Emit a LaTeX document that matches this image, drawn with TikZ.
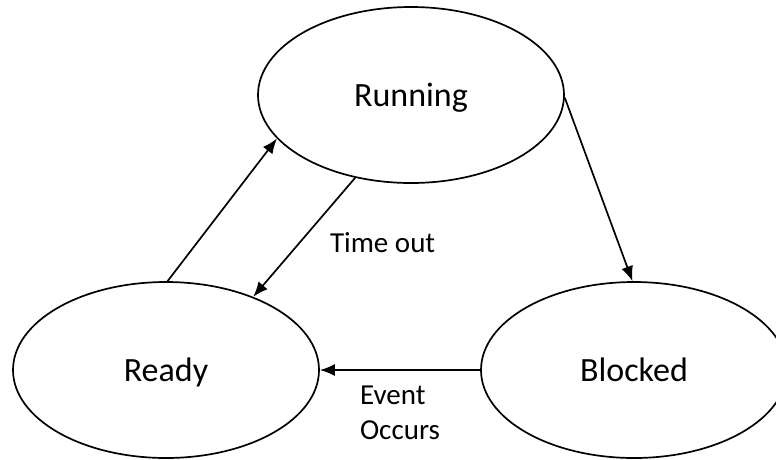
\documentclass[tikz,border=0pt]{standalone}
\usepackage{fontspec}
\setmainfont{Carlito}
\usetikzlibrary{shapes.geometric, arrows.meta, positioning}

\begin{document}
\begin{tikzpicture}
[x=1pt, y=-1pt,
  state/.style={draw, ellipse, line width=1.7pt, minimum width=306pt,
    minimum height=176pt, inner sep=0pt, text depth=0pt,
    font=\fontsize{34}{40}\selectfont},
  trans/.style={->, line width=1.7pt},
  edge text/.style={font=\fontsize{29}{35}\selectfont, align=left, inner sep=0pt},
  >={Latex[length=15pt,width=12pt]}]

\useasboundingbox (0,0) rectangle (776,459);

\node[state] (running) at (411,95) {Running};
\node[state] (ready) at (166,370) {Ready};
\node[state] (blocked) at (634,370) {Blocked};

\draw[trans] (ready.89) -- (running.198);
\draw[trans] (running.236) -- node[edge text, right=25pt, yshift=-5pt] {Time out} (ready.40);
\draw[trans] (running.-1) -- (blocked.91);
\draw[trans] (blocked.west) -- node[edge text, below=15pt] {Event\\Occurs} (ready.east);

\end{tikzpicture}
\end{document}
